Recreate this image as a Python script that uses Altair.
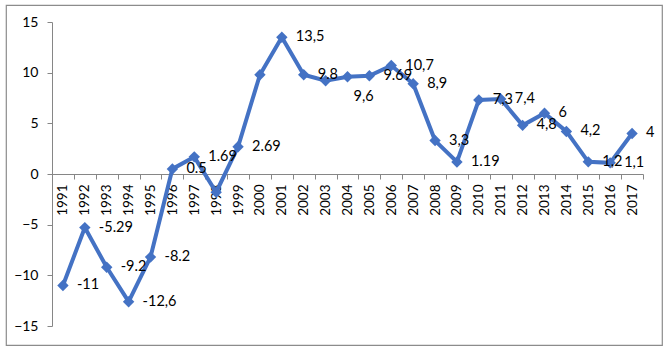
import altair as alt
import pandas as pd

years = ["1991", "1992", "1993", "1994", "1995", "1996", "1997", "1998", "1999",
         "2000", "2001", "2002", "2003", "2004", "2005", "2006", "2007", "2008",
         "2009", "2010", "2011", "2012", "2013", "2014", "2015", "2016", "2017"]
values = [-11, -5.29, -9.2, -12.6, -8.2, 0.5, 1.69, -1.8, 2.69,
          9.8, 13.5, 9.8, 9.2, 9.6, 9.69, 10.7, 8.9, 3.3,
          1.19, 7.3, 7.4, 4.8, 6, 4.2, 1.2, 1.1, 4]
labels = ["-11", "-5.29", "-9.2", "-12,6", "-8.2", "0.5", "1.69", "", "2.69",
          "", "13,5", "9.8", "", "9,6", "9.69", "10,7", "8,9", "3,3",
          "1.19", "7,3", "7,4", "4,8", "6", "4,2", "1,2", "1,1", "4"]
below_years = ["2004"]

df = pd.DataFrame({"year": years, "value": values, "label": labels})
df["pos"] = ["below" if y in below_years else "right" for y in years]

FONT = "Lato"
GRAY = "#868686"

x = alt.X(
    "year:O", sort=None, bandPosition=0.5,
    scale=alt.Scale(type="band", range=[46, 637], paddingInner=0, paddingOuter=0),
    axis=alt.Axis(title=None, labelAngle=-90, tickBand="extent", offset=-171,
                  domainColor=GRAY, tickColor=GRAY, tickSize=5, grid=False,
                  labelFont=FONT, labelFontSize=13.5, labelColor="black", labelPadding=5),
)
y = alt.Y(
    "value:Q",
    scale=alt.Scale(domain=[-15, 15], range=[321, 17], nice=False, zero=False),
    axis=alt.Axis(title=None, values=[-15, -10, -5, 0, 5, 10, 15], offset=-46,
                  domainColor=GRAY, tickColor=GRAY, tickSize=5, grid=False,
                  labelFont=FONT, labelFontSize=14, labelColor="black", labelPadding=9),
)

base = alt.Chart(df).encode(x=x, y=y)

line = base.mark_line(color="#4472C4", strokeWidth=4)
pts = base.mark_point(shape="diamond", filled=True, size=130, opacity=1, color="#4472C4")
txt_right = base.transform_filter(alt.datum.pos == "right").mark_text(
    align="left", baseline="middle", dx=14, font=FONT, fontSize=14.5, color="black"
).encode(text="label:N")
txt_below = base.transform_filter(alt.datum.pos == "below").mark_text(
    align="left", baseline="middle", dx=6, dy=20, font=FONT, fontSize=14.5, color="black"
).encode(text="label:N")

chart = (line + pts + txt_right + txt_below).properties(
    width=656, height=340,
    padding={"left": 6, "top": 5, "right": 5, "bottom": 7},
    autosize="none",
).configure_view(stroke="#8c8c8c", strokeWidth=1.2)

chart.save("out.html", embed_options={"renderer": "svg", "actions": False})
